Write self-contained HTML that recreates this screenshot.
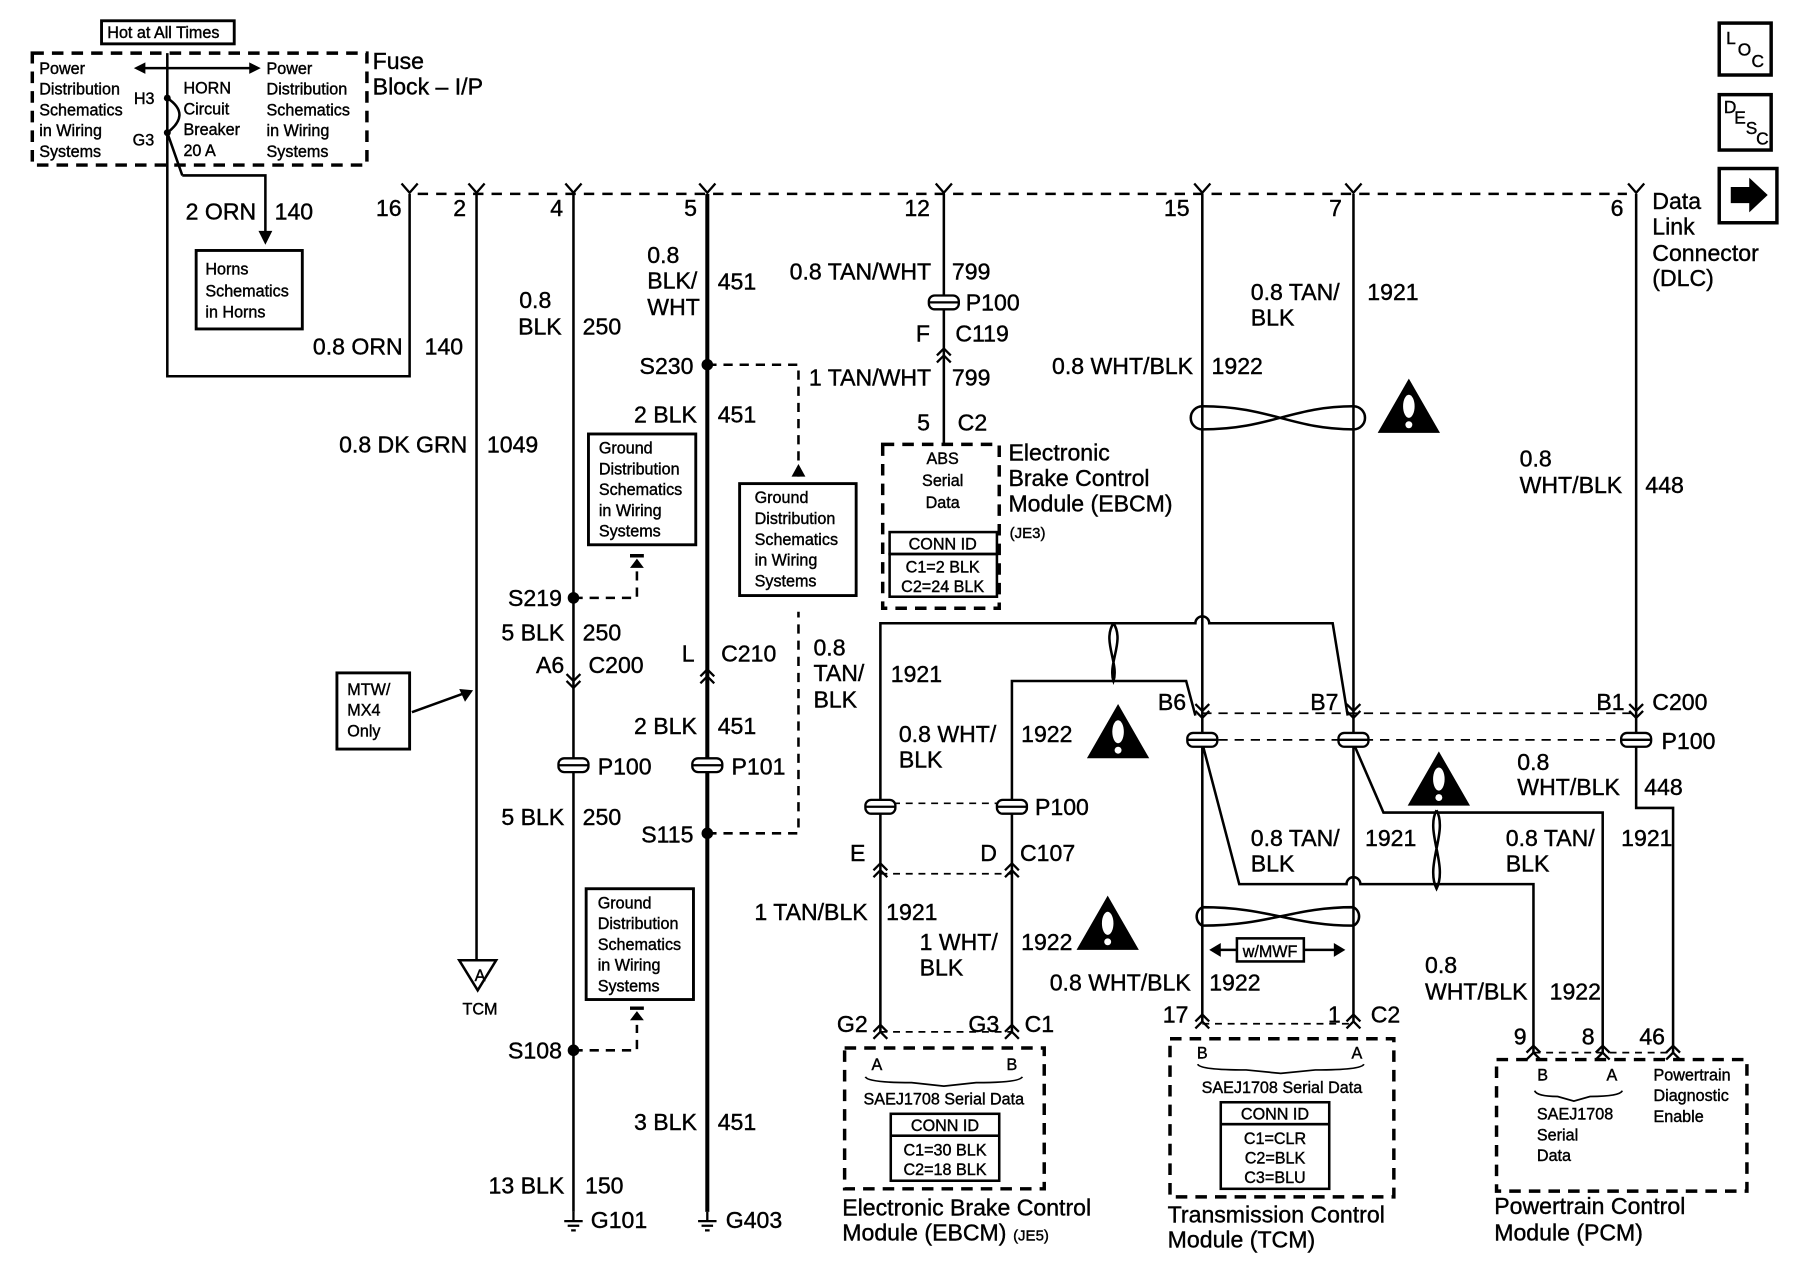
<!DOCTYPE html>
<html><head><meta charset="utf-8"><style>
html,body{margin:0;padding:0;background:#fff;}
svg{display:block;}
text{font-family:"Liberation Sans",sans-serif;fill:#000;stroke:#000;stroke-width:0.35px;}
.b{font-size:20px;}
.s{font-size:14px;}
.t{font-size:13px;}
</style></head><body>
<svg width="1800" height="1280" viewBox="0 0 1560 1109" preserveAspectRatio="none" xmlns="http://www.w3.org/2000/svg">
<defs>
<g id="pp"><rect x="-13" y="-6" width="26" height="12" rx="5" fill="#fff" stroke="#000" stroke-width="2"/><line x1="-13" y1="0" x2="13" y2="0" stroke="#000" stroke-width="2"/></g>
<g id="fk"><path d="M-7,-9 L0,-1 L7,-9" fill="none" stroke="#000" stroke-width="2"/></g>
<g id="chd"><path d="M-6,-8 L0,-2 L6,-8 M-6,-2 L0,4 L6,-2" fill="none" stroke="#000" stroke-width="2"/></g>
<g id="chu"><path d="M-6,8 L0,2 L6,8 M-6,2 L0,-4 L6,2" fill="none" stroke="#000" stroke-width="2"/></g>
<g id="gnd"><path d="M0,0 V8 M-8,8 H8 M-5,12 H5 M-2,16 H2" stroke="#000" stroke-width="2" fill="none"/></g>
<g id="warn"><path d="M0,0 L27,47 L-27,47 Z" fill="#000"/><ellipse cx="0" cy="24" rx="5" ry="10" fill="#fff"/><circle cx="0" cy="40" r="3" fill="#fff"/></g>
</defs>
<g fill="none" stroke="#000" stroke-width="2.2">
<rect x="28" y="46" width="290" height="97" stroke-width="3" stroke-dasharray="10,7"/>
<rect x="88" y="18" width="115" height="20" stroke-width="2.5"/>
<path d="M145,46 V326 H355 V168"/>
<path d="M122,59 H220"/>
<path d="M158,152 H230 V205"/>
<path d="M145,85 C160,95 158,105 145,115 M145,115 L158,152"/>
<rect x="170" y="217" width="92" height="68" stroke-width="2.5"/>
<path d="M362,168 H1410" stroke-dasharray="9,7"/>
<path d="M413,168 V832"/>
<path d="M497,168 V1050"/>
<path d="M613,168 V1050" stroke-width="3.5"/>
<path d="M818,168 V385"/>
<path d="M1042,168 V885"/>
<path d="M1173,168 V885"/>
<path d="M1418,168 V700 H1450 V912"/>
<path d="M398,832 H430 L414,858 Z"/>
<rect x="292" y="583" width="63" height="66" stroke-width="2.5"/>
<path d="M357,617 L404,600"/>
<rect x="510" y="376" width="93" height="96" stroke-width="2.5"/>
<rect x="641" y="419" width="101" height="97" stroke-width="2.5"/>
<rect x="508" y="770" width="93" height="96" stroke-width="2.5"/>
<path d="M497,518 H552 V492" stroke-dasharray="8,6"/>
<path d="M497,910 H552 V888" stroke-dasharray="8,6"/>
<path d="M613,316 H692 V415" stroke-dasharray="8,6"/>
<path d="M613,722 H692 V530" stroke-dasharray="8,6"/>
<rect x="765" y="385" width="101" height="142" stroke-width="3" stroke-dasharray="10,7"/>
<rect x="771" y="461" width="93" height="19"/>
<rect x="771" y="480" width="93" height="37"/>
<path d="M763,894 V540 H1036 A6,6 0 0 1 1048,540 H1155 L1168,620"/>
<path d="M877,894 V590 H1028 L1036,620"/>
<path d="M1042,644 L1074,766 H1167 A6,6 0 0 1 1179,766 H1329 V912"/>
<path d="M1173,644 L1199,704 H1389 V912"/>
<path d="M763,757 H877" stroke-dasharray="6,5" stroke-width="1.5"/>
<path d="M763,696 H877" stroke-dasharray="6,5" stroke-width="1.5"/>
<path d="M1042,618 H1418" stroke-dasharray="8,6" stroke-width="1.5"/>
<path d="M1042,641 H1418" stroke-dasharray="8,6" stroke-width="1.5"/>
<path d="M763,894 H877" stroke-dasharray="6,5" stroke-width="1.5"/>
<path d="M1042,887 H1173" stroke-dasharray="6,5" stroke-width="1.5"/>
<path d="M1329,912 H1450" stroke-dasharray="6,5" stroke-width="1.5"/>
<path d="M965,540 C975,555 960,575 965,590 C970,575 955,555 965,540" />
<path d="M1245,702 C1255,720 1235,750 1245,770 C1255,750 1235,720 1245,702"/>
<path d="M1042,352 C1100,352 1120,372 1173,372 A10,10 0 0 0 1173,352 C1120,352 1100,372 1042,372 A10,10 0 0 1 1042,352"/>
<path d="M1042,786 C1100,786 1120,802 1173,802 A9,9 0 0 0 1173,786 C1120,786 1100,802 1042,802 A9,9 0 0 1 1042,786"/>
<rect x="1072" y="813" width="58" height="20"/>
<path d="M1052,823 H1072 M1130,823 H1162"/>
<rect x="732" y="908" width="173" height="122" stroke-width="3" stroke-dasharray="10,7"/>
<rect x="772" y="965" width="94" height="19"/>
<rect x="772" y="984" width="94" height="39"/>
<path d="M750,933 Q752,938 790,938 L818,941 L846,938 Q884,938 886,933" stroke-width="1.5"/>
<rect x="1014" y="900" width="194" height="137" stroke-width="3" stroke-dasharray="10,7"/>
<rect x="1058" y="955" width="94" height="19"/>
<rect x="1058" y="974" width="94" height="56"/>
<path d="M1038,922 Q1040,927 1080,927 L1110,930 L1140,927 Q1180,927 1182,922" stroke-width="1.5"/>
<rect x="1297" y="918" width="217" height="114" stroke-width="3" stroke-dasharray="10,7"/>
<path d="M1330,945 Q1332,950 1350,950 L1364,954 L1378,950 Q1404,950 1406,945" stroke-width="1.5"/>
<rect x="1490" y="20" width="45" height="45" stroke-width="3"/>
<rect x="1490" y="82" width="45" height="48" stroke-width="3"/>
<rect x="1490" y="146" width="50" height="47" stroke-width="3"/>
</g>
<g fill="#000">
<path d="M116,59 L126,54 L126,64 Z"/><path d="M226,59 L216,54 L216,64 Z"/>
<path d="M230,212 L224,200 L236,200 Z"/>
<path d="M410,598 L398,597 L403,608 Z"/>
<path d="M552,484 L546,492 L558,492 Z M546,480 H558 V483 H546Z"/>
<path d="M552,876 L546,884 L558,884 Z M546,872 H558 V875 H546Z"/>
<path d="M692,402 L686,413 L698,413 Z"/>
<path d="M1048,823 L1058,817 L1058,829 Z"/><path d="M1166,823 L1156,817 L1156,829 Z"/>
<circle cx="145" cy="85" r="3"/><circle cx="145" cy="115" r="3"/>
<circle cx="497" cy="518" r="5"/><circle cx="497" cy="910" r="5"/>
<circle cx="613" cy="316" r="5"/><circle cx="613" cy="722" r="5"/>
<path d="M1500,162 H1516 V154 L1532,169 L1516,184 V176 H1500 Z"/>
</g>
<use href="#warn" x="1221" y="328"/>
<use href="#warn" x="969" y="610"/>
<use href="#warn" x="960" y="776"/>
<use href="#warn" x="1247" y="651"/>
<use href="#fk" x="355" y="168"/><use href="#fk" x="413" y="168"/><use href="#fk" x="497" y="168"/><use href="#fk" x="613" y="168"/><use href="#fk" x="818" y="168"/><use href="#fk" x="1042" y="168"/><use href="#fk" x="1173" y="168"/><use href="#fk" x="1418" y="168"/>
<use href="#chd" x="497" y="592"/>
<use href="#chu" x="613" y="584"/>
<use href="#chu" x="818" y="306"/>
<use href="#chd" x="1042" y="618"/><use href="#chd" x="1173" y="618"/><use href="#chd" x="1418" y="618"/>
<use href="#chu" x="763" y="752"/><use href="#chu" x="877" y="752"/>
<use href="#chu" x="763" y="892"/><use href="#chu" x="877" y="892"/>
<use href="#chu" x="1042" y="883"/><use href="#chu" x="1173" y="883"/>
<use href="#chu" x="1329" y="910"/><use href="#chu" x="1389" y="910"/><use href="#chu" x="1450" y="910"/>
<use href="#pp" x="497" y="663"/><use href="#pp" x="613" y="663"/><use href="#pp" x="818" y="262"/>
<use href="#pp" x="763" y="699"/><use href="#pp" x="877" y="699"/>
<use href="#pp" x="1042" y="641"/><use href="#pp" x="1173" y="641"/><use href="#pp" x="1418" y="641"/>
<use href="#gnd" x="497" y="1050"/><use href="#gnd" x="613" y="1050"/>
<text class="s" x="93" y="33">Hot at All Times</text>
<g class="s"><text x="34" y="64">Power</text><text x="34" y="82">Distribution</text><text x="34" y="100">Schematics</text><text x="34" y="118">in Wiring</text><text x="34" y="136">Systems</text>
<text x="116" y="90">H3</text><text x="115" y="126">G3</text>
<text x="159" y="81">HORN</text><text x="159" y="99">Circuit</text><text x="159" y="117">Breaker</text><text x="159" y="135">20 A</text>
<text x="231" y="64">Power</text><text x="231" y="82">Distribution</text><text x="231" y="100">Schematics</text><text x="231" y="118">in Wiring</text><text x="231" y="136">Systems</text>
<text x="178" y="238">Horns</text><text x="178" y="257">Schematics</text><text x="178" y="275">in Horns</text>
<text x="301" y="602">MTW/</text><text x="301" y="620">MX4</text><text x="301" y="638">Only</text>
<text x="519" y="393">Ground</text><text x="519" y="411">Distribution</text><text x="519" y="429">Schematics</text><text x="519" y="447">in Wiring</text><text x="519" y="465">Systems</text>
<text x="654" y="436">Ground</text><text x="654" y="454">Distribution</text><text x="654" y="472">Schematics</text><text x="654" y="490">in Wiring</text><text x="654" y="508">Systems</text>
<text x="518" y="787">Ground</text><text x="518" y="805">Distribution</text><text x="518" y="823">Schematics</text><text x="518" y="841">in Wiring</text><text x="518" y="859">Systems</text>
<text x="817" y="402" text-anchor="middle">ABS</text><text x="817" y="421" text-anchor="middle">Serial</text><text x="817" y="440" text-anchor="middle">Data</text>
<text x="817" y="476" text-anchor="middle">CONN ID</text><text x="817" y="496" text-anchor="middle">C1=2 BLK</text><text x="817" y="513" text-anchor="middle">C2=24 BLK</text>
<text x="819" y="980" text-anchor="middle">CONN ID</text><text x="819" y="1001" text-anchor="middle">C1=30 BLK</text><text x="819" y="1018" text-anchor="middle">C2=18 BLK</text>
<text x="1105" y="970" text-anchor="middle">CONN ID</text><text x="1105" y="991" text-anchor="middle">C1=CLR</text><text x="1105" y="1008" text-anchor="middle">C2=BLK</text><text x="1105" y="1025" text-anchor="middle">C3=BLU</text>
<text x="1433" y="936">Powertrain</text><text x="1433" y="954">Diagnostic</text><text x="1433" y="972">Enable</text>
<text x="1332" y="970">SAEJ1708</text><text x="1332" y="988">Serial</text><text x="1332" y="1006">Data</text>
<text x="818" y="957" text-anchor="middle">SAEJ1708 Serial Data</text>
<text x="1111" y="947" text-anchor="middle">SAEJ1708 Serial Data</text>
<text x="760" y="927" text-anchor="middle">A</text><text x="877" y="927" text-anchor="middle">B</text>
<text x="1042" y="917" text-anchor="middle">B</text><text x="1176" y="917" text-anchor="middle">A</text>
<text x="1337" y="936" text-anchor="middle">B</text><text x="1397" y="936" text-anchor="middle">A</text>
<text x="1077" y="829">w/MWF</text>
<text x="416" y="850" text-anchor="middle">A</text><text x="416" y="879" text-anchor="middle">TCM</text>
</g>
<text class="t" x="875" y="466">(JE3)</text>
<text class="t" x="878" y="1075">(JE5)</text>
<g class="b">
<text x="323" y="60">Fuse</text><text x="323" y="82">Block – I/P</text>
<text x="1432" y="181">Data</text><text x="1432" y="203">Link</text><text x="1432" y="226">Connector</text><text x="1432" y="248">(DLC)</text>
<text x="222" y="190" text-anchor="end">2 ORN</text><text x="238" y="190">140</text>
<text x="348" y="187" text-anchor="end">16</text><text x="404" y="187" text-anchor="end">2</text><text x="488" y="187" text-anchor="end">4</text><text x="604" y="187" text-anchor="end">5</text><text x="806" y="187" text-anchor="end">12</text><text x="1031" y="187" text-anchor="end">15</text><text x="1163" y="187" text-anchor="end">7</text><text x="1407" y="187" text-anchor="end">6</text>
<text x="349" y="307" text-anchor="end">0.8 ORN</text><text x="368" y="307">140</text>
<text x="405" y="392" text-anchor="end">0.8 DK GRN</text><text x="422" y="392">1049</text>
<text x="450" y="267">0.8</text><text x="449" y="290">BLK</text><text x="505" y="290">250</text>
<text x="487" y="525" text-anchor="end">S219</text>
<text x="489" y="555" text-anchor="end">5 BLK</text><text x="505" y="555">250</text>
<text x="489" y="583" text-anchor="end">A6</text><text x="510" y="583">C200</text>
<text x="518" y="671">P100</text>
<text x="489" y="715" text-anchor="end">5 BLK</text><text x="505" y="715">250</text>
<text x="487" y="917" text-anchor="end">S108</text>
<text x="489" y="1034" text-anchor="end">13 BLK</text><text x="507" y="1034">150</text>
<text x="512" y="1064">G101</text>
<text x="561" y="228">0.8</text><text x="561" y="250">BLK/</text><text x="561" y="273">WHT</text><text x="622" y="251">451</text>
<text x="601" y="324" text-anchor="end">S230</text>
<text x="604" y="366" text-anchor="end">2 BLK</text><text x="622" y="366">451</text>
<text x="602" y="573" text-anchor="end">L</text><text x="625" y="573">C210</text>
<text x="604" y="636" text-anchor="end">2 BLK</text><text x="622" y="636">451</text>
<text x="634" y="671">P101</text>
<text x="601" y="730" text-anchor="end">S115</text>
<text x="604" y="979" text-anchor="end">3 BLK</text><text x="622" y="979">451</text>
<text x="629" y="1064">G403</text>
<text x="807" y="242" text-anchor="end">0.8 TAN/WHT</text><text x="825" y="242">799</text>
<text x="837" y="269">P100</text>
<text x="806" y="296" text-anchor="end">F</text><text x="828" y="296">C119</text>
<text x="807" y="334" text-anchor="end">1 TAN/WHT</text><text x="825" y="334">799</text>
<text x="806" y="373" text-anchor="end">5</text><text x="830" y="373">C2</text>
<text x="874" y="399">Electronic</text><text x="874" y="421">Brake Control</text><text x="874" y="443">Module (EBCM)</text>
<text x="1034" y="324" text-anchor="end">0.8 WHT/BLK</text><text x="1050" y="324">1922</text>
<text x="1084" y="260">0.8 TAN/</text><text x="1084" y="282">BLK</text><text x="1185" y="260">1921</text>
<text x="1317" y="404">0.8</text><text x="1317" y="427">WHT/BLK</text><text x="1426" y="427">448</text>
<text x="705" y="568">0.8</text><text x="705" y="590">TAN/</text><text x="705" y="613">BLK</text><text x="772" y="591">1921</text>
<text x="779" y="643">0.8 WHT/</text><text x="779" y="665">BLK</text><text x="885" y="643">1922</text>
<text x="897" y="706">P100</text>
<text x="750" y="746" text-anchor="end">E</text><text x="864" y="746" text-anchor="end">D</text><text x="884" y="746">C107</text>
<text x="752" y="797" text-anchor="end">1 TAN/BLK</text><text x="768" y="797">1921</text>
<text x="797" y="823">1 WHT/</text><text x="797" y="845">BLK</text><text x="885" y="823">1922</text>
<text x="1032" y="858" text-anchor="end">0.8 WHT/BLK</text><text x="1048" y="858">1922</text>
<text x="1084" y="733">0.8 TAN/</text><text x="1084" y="755">BLK</text><text x="1183" y="733">1921</text>
<text x="1315" y="667">0.8</text><text x="1315" y="689">WHT/BLK</text><text x="1425" y="689">448</text>
<text x="1305" y="733">0.8 TAN/</text><text x="1305" y="755">BLK</text><text x="1405" y="733">1921</text>
<text x="1235" y="843">0.8</text><text x="1235" y="866">WHT/BLK</text><text x="1343" y="866">1922</text>
<text x="1028" y="615" text-anchor="end">B6</text><text x="1160" y="615" text-anchor="end">B7</text><text x="1408" y="615" text-anchor="end">B1</text><text x="1432" y="615">C200</text><text x="1440" y="649">P100</text>
<text x="752" y="894" text-anchor="end">G2</text><text x="866" y="894" text-anchor="end">G3</text><text x="888" y="894">C1</text>
<text x="1030" y="886" text-anchor="end">17</text><text x="1162" y="886" text-anchor="end">1</text><text x="1188" y="886">C2</text>
<text x="1323" y="905" text-anchor="end">9</text><text x="1382" y="905" text-anchor="end">8</text><text x="1443" y="905" text-anchor="end">46</text>
<text x="730" y="1053">Electronic Brake Control</text><text x="730" y="1075">Module (EBCM)</text>
<text x="1012" y="1059">Transmission Control</text><text x="1012" y="1081">Module (TCM)</text>
<text x="1295" y="1052">Powertrain Control</text><text x="1295" y="1075">Module (PCM)</text>
</g>
<g font-size="15">
<text x="1496" y="38">L</text><text x="1506" y="48">O</text><text x="1518" y="58">C</text>
<text x="1494" y="98">D</text><text x="1503" y="107">E</text><text x="1513" y="116">S</text><text x="1522" y="125">C</text>
</g>
</svg>
</body></html>
